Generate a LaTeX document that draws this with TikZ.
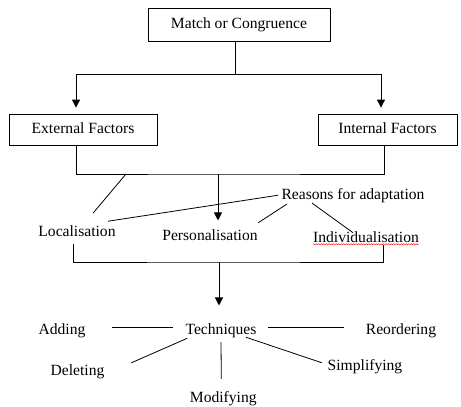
\documentclass[tikz,border=0pt]{standalone}
\usepackage{fontspec}
\setmainfont{Liberation Serif}
\usetikzlibrary{positioning}
\usetikzlibrary{arrows.meta}
\usetikzlibrary{decorations.pathmorphing}

\begin{document}
\begin{tikzpicture}[x=1pt, y=-1pt, on grid,
        every node/.style={font=\fontsize{15.6}{18}\selectfont, text height=11pt, text depth=3.5pt},
        factor/.style={draw, rectangle, line width=0.8pt, minimum height=31pt},
        link/.style={line width=0.8pt},
        flow/.style={link, -{Triangle[width=8pt,length=8pt]}}]
        \useasboundingbox (0,0) rectangle (461,407);
        \node (match) [factor, minimum width=182pt, minimum height=33pt] at (239,24.5) {Match or Congruence};
        \node (external) [factor, minimum width=148pt, below left=105pt and 156pt of match] {External Factors};
        \node (internal) [factor, minimum width=139pt, below right=105pt and 148.5pt of match] {Internal Factors};
        \node (localisation) [below left=103.5pt and 6pt of external] {Localisation};
        \node (personalisation) [below right=3.25pt and 133pt of localisation] {Personalisation};
        \node (individualisation) [below right=2.25pt and 156pt of personalisation] {Individualisation};
        \node (reasons) [above left=43.25pt and 13pt of individualisation] {Reasons for adaptation};
        \node (techniques) [below right=94pt and 11pt of personalisation] {Techniques};
        \node (adding) [left=159pt of techniques] {Adding};
        \node (reordering) [right=180pt of techniques] {Reordering};
        \node (deleting) [below left=41.75pt and 143.5pt of techniques] {Deleting};
        \node (simplifying) [below right=36pt and 144pt of techniques] {Simplifying};
        \node (modifying) [below right=68.5pt and 2.3pt of techniques] {Modifying};
        \coordinate (split) at (235,74);
        \coordinate (join) at (218,174);
        \coordinate (lfoot) at (126,174);
        \coordinate (merge) at (219,262);

        % match splits into the two kinds of factors
        \draw[link] ([xshift=-4pt]match.south) -- (split);
        \draw[flow, shorten >=6pt] (split) -| ([xshift=-7pt]external.north);
        \draw[flow, shorten >=6pt] (split) -| ([xshift=-6.5pt]internal.north);

        % factors lead to the reasons
        \draw[link] ([xshift=-7pt]external.south) |- (join) -| ([xshift=-3.5pt]internal.south);
        \draw[flow, shorten >=5pt] (join) -- (join |- personalisation.north);
        \draw[link] (lfoot) -- ([xshift=16pt,yshift=9pt]localisation.north);
        \draw[link] (reasons.west) -- ([xshift=-11pt,yshift=1pt]localisation.north east);
        \draw[link] ([xshift=9pt,yshift=2pt]reasons.south west) -- ([xshift=-3pt,yshift=2.7pt]personalisation.north east);
        \draw[link] ([xshift=34pt,yshift=3pt]reasons.south west) -- ([xshift=-13pt,yshift=-5pt]individualisation.north);
        \draw[red, line width=0.4pt, decorate, decoration={snake, amplitude=0.6pt, segment length=2.5pt}]
            ([xshift=3.3pt,yshift=5pt]individualisation.south west) -- ([xshift=-3.3pt,yshift=5pt]individualisation.south east);

        % reasons lead to the techniques
        \draw[link] ([xshift=-4pt]localisation.south) |- (merge) -| ([xshift=17pt,yshift=4pt]individualisation.south);
        \draw[flow, shorten >=14pt] (merge) -- (merge |- techniques.north);
        \draw[link, shorten <=22.7pt, shorten >=8.7pt] ([yshift=3pt]adding.east) -- ([yshift=3pt]techniques.west);
        \draw[link, shorten <=8pt, shorten >=18.4pt] ([yshift=3pt]techniques.east) -- ([yshift=3pt]reordering.west);
        \draw[link] ([xshift=5.3pt,yshift=2.8pt]techniques.south west) -- ([xshift=23.4pt,yshift=-1.6pt]deleting.north east);
        \draw[link] ([yshift=-1pt]techniques.south) -- ([xshift=-2pt,yshift=9pt]modifying.north);
        \draw[link] ([xshift=-14pt,yshift=3.8pt]techniques.south east) -- ([xshift=-2.4pt,yshift=-7.3pt]simplifying.north west);
    \end{tikzpicture}
\end{document}
